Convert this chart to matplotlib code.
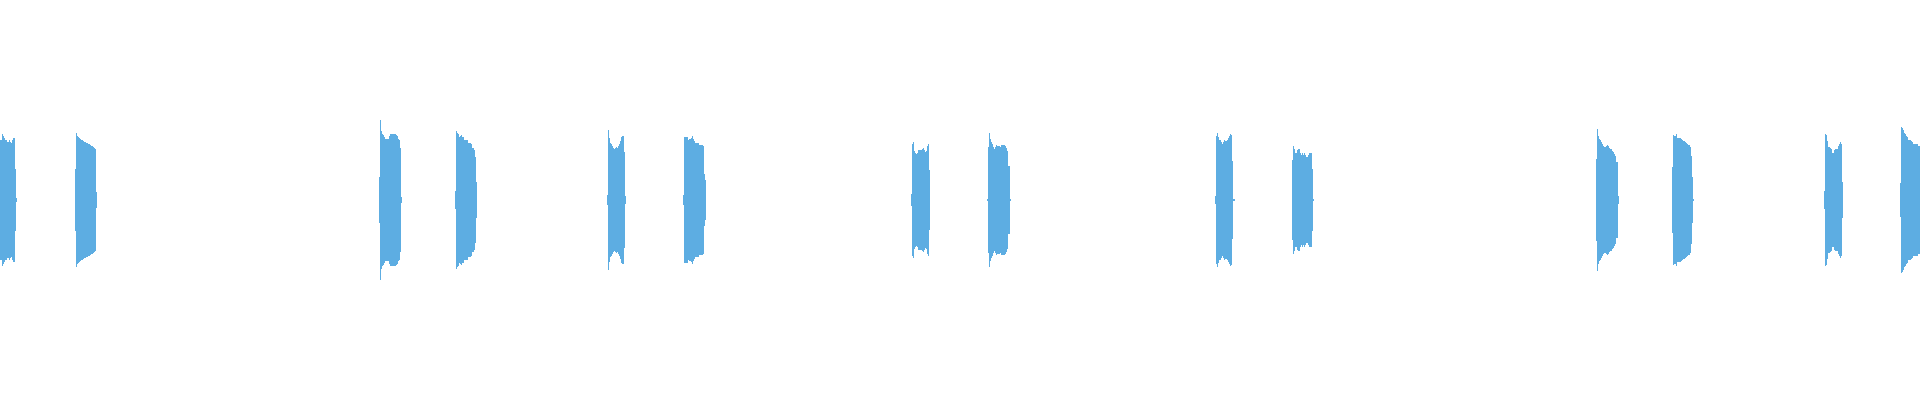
import numpy as np
import matplotlib
matplotlib.use("Agg")
import matplotlib.pyplot as plt

# waveform peaks, one value per frame column, grouped by burst
# (frame where each burst begins, then its peak amplitude per frame)
burst_starts = [0, 75, 379, 455, 607, 683, 911, 987, 1215, 1292, 1596, 1672, 1824, 1900]

peaks_1 = [0.30, 0.30, 0.33, 0.32, 0.31, 0.30, 0.30, 0.29, 0.29, 0.30, 0.29, 0.285, 0.30, 0.31, 0.31, 0.155, 0.01]
peaks_2 = [0.155, 0.335, 0.32, 0.315, 0.31, 0.305, 0.30, 0.30, 0.295, 0.29, 0.29, 0.285, 0.285, 0.28,
           0.28, 0.275, 0.27, 0.27, 0.265, 0.26, 0.255, 0.04]
peaks_3 = [0.115, 0.40, 0.345, 0.33, 0.325, 0.315, 0.305, 0.305, 0.305, 0.305, 0.32, 0.33, 0.33, 0.33,
           0.33, 0.33, 0.33, 0.325, 0.32, 0.305, 0.30, 0.26, 0.015]
peaks_4 = [0.045, 0.345, 0.335, 0.33, 0.315, 0.32, 0.325, 0.315, 0.315, 0.30, 0.30, 0.30, 0.30, 0.285,
           0.285, 0.285, 0.28, 0.26, 0.26, 0.25, 0.215, 0.09]
peaks_5 = [0.025, 0.35, 0.31, 0.285, 0.28, 0.27, 0.26, 0.255, 0.26, 0.265, 0.26, 0.27, 0.28, 0.295,
           0.315, 0.32, 0.32, 0.24, 0.02]
peaks_6 = [0.025, 0.315, 0.315, 0.315, 0.315, 0.30, 0.305, 0.305, 0.31, 0.32, 0.305, 0.295, 0.285,
           0.285, 0.285, 0.285, 0.275, 0.275, 0.275, 0.275, 0.27, 0.13, 0.10]
peaks_7 = [0.03, 0.28, 0.29, 0.245, 0.235, 0.23, 0.235, 0.25, 0.25, 0.25, 0.25, 0.255, 0.26, 0.25,
           0.24, 0.245, 0.27, 0.28, 0.15]
peaks_8 = [0.005, 0.265, 0.335, 0.305, 0.29, 0.28, 0.265, 0.255, 0.265, 0.275, 0.27, 0.27, 0.27,
           0.265, 0.275, 0.275, 0.275, 0.275, 0.27, 0.26, 0.245, 0.17, 0.17, 0.005]
peaks_9 = [0.02, 0.32, 0.335, 0.315, 0.30, 0.30, 0.29, 0.28, 0.29, 0.30, 0.295, 0.295, 0.30, 0.31,
           0.32, 0.33, 0.325, 0.195, 0.005, 0.005]
peaks_10 = [0.20, 0.27, 0.255, 0.235, 0.235, 0.25, 0.255, 0.255, 0.235, 0.225, 0.235, 0.225, 0.235,
            0.225, 0.215, 0.215, 0.225, 0.235, 0.235, 0.235, 0.155, 0.005]
peaks_11 = [0.205, 0.355, 0.32, 0.305, 0.30, 0.29, 0.28, 0.27, 0.265, 0.265, 0.27, 0.275, 0.27, 0.26,
            0.255, 0.255, 0.245, 0.24, 0.23, 0.22, 0.19, 0.19, 0.02]
peaks_12 = [0.165, 0.325, 0.32, 0.32, 0.33, 0.31, 0.31, 0.31, 0.31, 0.305, 0.30, 0.295, 0.295, 0.29,
            0.285, 0.28, 0.275, 0.275, 0.265, 0.22, 0.115, 0.005]
peaks_13 = [0.045, 0.33, 0.325, 0.295, 0.265, 0.265, 0.26, 0.255, 0.235, 0.235, 0.25, 0.255, 0.255,
            0.255, 0.27, 0.28, 0.29, 0.28, 0.09]
peaks_14 = [0.085, 0.365, 0.36, 0.35, 0.335, 0.33, 0.32, 0.315, 0.30, 0.30, 0.30, 0.295, 0.29, 0.28,
            0.28, 0.28, 0.28, 0.28, 0.27, 0.27]

bursts = [peaks_1, peaks_2, peaks_3, peaks_4, peaks_5, peaks_6, peaks_7,
          peaks_8, peaks_9, peaks_10, peaks_11, peaks_12, peaks_13, peaks_14]

total_frames = 1920
wave_color = "#5DADE2"

fig = plt.figure(figsize=(19.2, 4), dpi=100)
ax = fig.add_axes([0, 0, 1, 1])

for start, peaks in zip(burst_starts, bursts):
    peaks = np.array(peaks)
    frames = start + np.arange(len(peaks))
    ax.bar(frames, 2 * peaks, bottom=-peaks, width=1, align="edge",
           color=wave_color, linewidth=0)

ax.set_xlim(0, total_frames)
ax.set_ylim(-1, 1)
ax.axis("off")

fig.savefig("out.png", dpi=100, facecolor="white")
